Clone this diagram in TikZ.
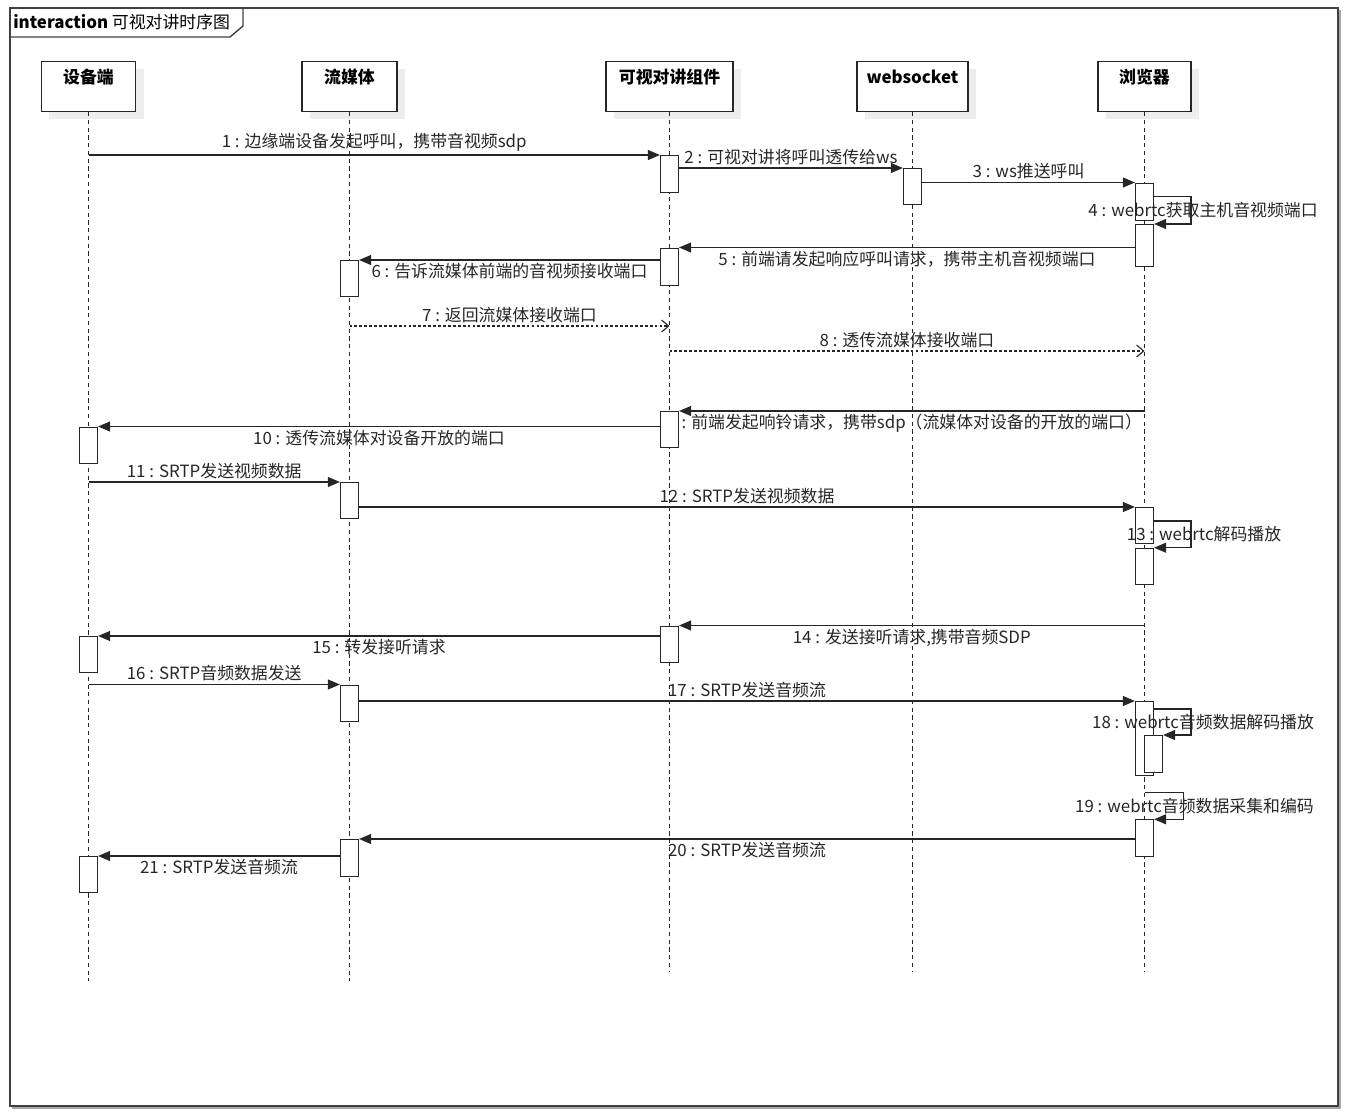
\documentclass[tikz,border=0pt]{standalone}
\usepackage{fontspec}
\newfontfamily\cjk{Noto Sans CJK SC}
\usetikzlibrary{positioning,arrows.meta,shadows,calc}
\colorlet{ink}{black!85}
\colorlet{shade}{black!7}
% activation bar: [options]{name}{lifeline}{top}{bottom}
\newcommand{\actbox}[5][]{%
  \node[act, #1, minimum height={(#5-#4)*0.025cm}] (#2) at (#3.center |- 0,#4) {};}

\begin{document}
\begin{tikzpicture}[x=0.025cm, y=-0.025cm,
    font=\cjk\fontsize{12}{14}\selectfont,
    head/.style={draw=ink, line width=0.8pt, fill=white, anchor=north,
                 font=\cjk\bfseries\fontsize{12}{14}\selectfont,
                 inner ysep=4pt, text height=11.8pt, text depth=15.8pt,
                 general shadow={fill=shade, shadow xshift=0.2cm, shadow yshift=-0.18cm}},
    life/.style={draw=ink, line width=0.5pt, dash pattern=on 3pt off 2.5pt},
    act/.style={draw=ink, line width=0.8pt, fill=white, minimum width=0.45cm,
                inner sep=0pt, anchor=north},
    msg/.style={draw=ink, line width=0.9pt, -{Triangle[length=8.5pt,width=7pt]}},
    ret/.style={draw=ink, line width=0.8pt, dash pattern=on 2pt off 1.5pt,
                -{Straight Barb[length=5pt,width=8.5pt]}},
    lab/.style={inner sep=2pt, text=ink},
    frame/.style={draw=black!75, line width=1pt},
  ]
  \useasboundingbox (0,0) rectangle (1351,1119);

  % frame
  \draw[black!35, line width=1.5pt] (12,1108) -- (1340,1108) -- (1340,10);
  \draw[frame] (10,8) rectangle (1338,1106);
  \draw[frame] (10,37) -- (230,37) -- (243,26) -- (243,8);
  \node[anchor=west, inner sep=0pt] (title) at (13,22.5)
    {\textbf{interaction} 可视对讲时序图};

  % lifelines
  \node[head, minimum width=2.35cm] (dev) at (88.5,61) {设备端};
  \node[head, minimum width=2.375cm] (media) at (349.5,61) {流媒体};
  \node[head, minimum width=3.175cm] (comp) at (669.5,61) {可视对讲组件};
  \node[head, minimum width=2.775cm] (ws) at (912.5,61) {websocket};
  \node[head, minimum width=2.325cm] (brow) at (1144.5,61) {浏览器};

  \draw[life] (dev.south) -- ++(0,869);
  \draw[life] (media.south) -- ++(0,869);
  \draw[life] (comp.south) -- ++(0,860);
  \draw[life] (ws.south) -- ++(0,860);
  \draw[life] (brow.south) -- ++(0,860);

  % activations
  \actbox{k1}{comp}{155}{191.7}
  \actbox{w1}{ws}{168}{204.3}
  \actbox{b1}{brow}{182.5}{220.3}
  \actbox{b2}{brow}{224}{266}
  \actbox{k2}{comp}{247.5}{284.7}
  \actbox{s1}{media}{260}{296}
  \actbox{k3}{comp}{411}{447}
  \actbox{d1}{dev}{426.5}{463.3}
  \actbox{s2}{media}{482}{518.3}
  \actbox{b3}{brow}{507}{543.3}
  \actbox{b4}{brow}{547.7}{584}
  \actbox{k4}{comp}{625.5}{662.3}
  \actbox{d2}{dev}{636}{672.3}
  \actbox{s3}{media}{684.5}{720.7}
  \actbox{b5}{brow}{701}{775}
  \actbox[xshift=0.225cm]{b6}{brow}{735}{771.7}
  \actbox{b7}{brow}{819.3}{856}
  \actbox{s4}{media}{839}{875.7}
  \actbox{d3}{dev}{856}{892.3}

  % messages
  \draw[msg] (k1.north west -| dev) -- node[lab, above] {1 : 边缘端设备发起呼叫，携带音视频sdp} (k1.north west);
  \draw[msg] (k1.east |- w1.north) -- node[lab, above] {2 : 可视对讲将呼叫透传给ws} (w1.north west);
  \draw[msg] (w1.east |- b1.north) -- node[lab, above] {3 : ws推送呼叫} (b1.north west);
  \draw[msg] ($(b1.north east)+(0,14)$) -- ++(37,0) |- node[lab, pos=0.25, xshift=0.3cm]
    {4 : webrtc获取主机音视频端口} (b2.north east);
  \draw[msg] (b2.west |- k2.north) -- node[lab, below] {5 : 前端请发起响应呼叫请求，携带主机音视频端口} (k2.north east);
  \draw[msg] (k2.west |- s1.north) -- node[lab, below] {6 : 告诉流媒体前端的音视频接收端口} (s1.north east);
  \coordinate (r7) at (media.center |- 0,326);
  \draw[ret] (r7) -- node[lab, above] {7 : 返回流媒体接收端口} (r7 -| comp);
  \coordinate (r8) at (comp.center |- 0,351);
  \draw[ret] (r8) -- node[lab, above] {8 : 透传流媒体接收端口} (r8 -| brow);
  \draw[msg] (k3.north east -| brow) -- node[lab, below]
    {: 前端发起响铃请求，携带sdp（流媒体对设备的开放的端口）} (k3.north east);
  \draw[msg] (k3.west |- d1.north) -- node[lab, below] {10 : 透传流媒体对设备开放的端口} (d1.north east);
  \draw[msg] (s2.north west -| dev) -- node[lab, above] {11 : SRTP发送视频数据} (s2.north west);
  \draw[msg] (s2.east |- b3.north) -- node[lab, above] {12 : SRTP发送视频数据} (b3.north west);
  \draw[msg] ($(b3.north east)+(0,14)$) -- ++(37,0) |- node[lab, pos=0.25, xshift=0.325cm]
    {13 : webrtc解码播放} (b4.north east);
  \draw[msg] (k4.north east -| brow) -- node[lab, below] {14 : 发送接听请求,携带音频SDP} (k4.north east);
  \draw[msg] (k4.west |- d2.north) -- node[lab, below] {15 : 转发接听请求} (d2.north east);
  \draw[msg] (s3.north west -| dev) -- node[lab, above] {16 : SRTP音频数据发送} (s3.north west);
  \draw[msg] (s3.east |- b5.north) -- node[lab, above] {17 : SRTP发送音频流} (b5.north west);
  \draw[msg] ($(b5.north east)+(0,8)$) -- ++(37,0) |- node[lab, pos=0.25, xshift=0.3cm]
    {18 : webrtc音频数据解码播放} (b6.north east);
  \draw[msg] ($(b7.north -| brow)+(0,-26.5)$) -- ++(39,0) |- node[lab, pos=0.25, xshift=0.275cm]
    {19 : webrtc音频数据采集和编码} (b7.north east);
  \draw[msg] (b7.west |- s4.north) -- node[lab, below] {20 : SRTP发送音频流} (s4.north east);
  \draw[msg] (s4.west |- d3.north) -- node[lab, below] {21 : SRTP发送音频流} (d3.north east);
\end{tikzpicture}
\end{document}
